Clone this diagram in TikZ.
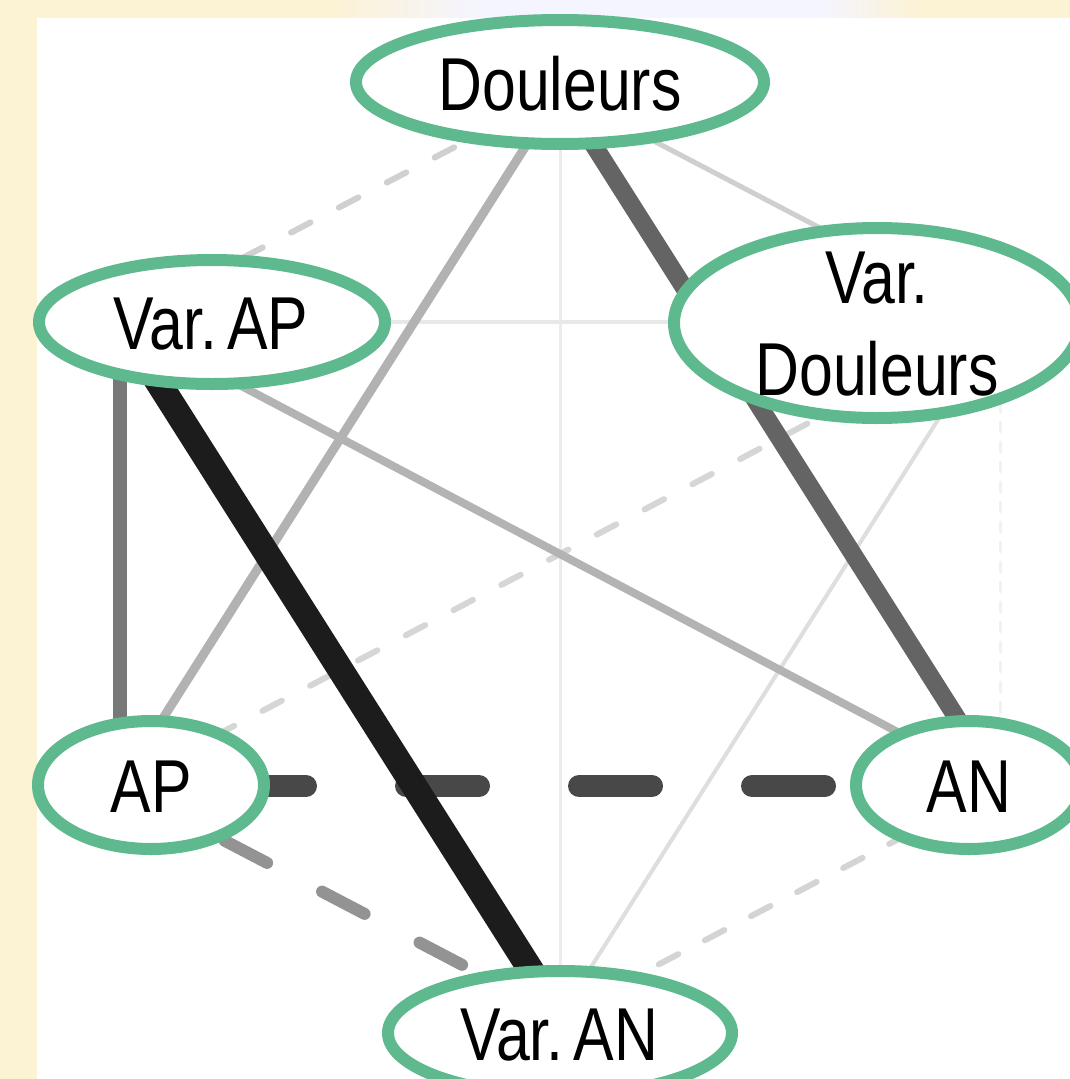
\documentclass[tikz,border=0pt]{standalone}
\usepackage{fontspec}
\setmainfont{Liberation Sans}[FakeStretch=0.81]
\usetikzlibrary{shapes.geometric}
\definecolor{ngreen}{RGB}{95,185,142}
\definecolor{bgyellow}{RGB}{252,242,212}
\begin{document}
\begin{tikzpicture}[x=1pt,y=-1pt,
  ell/.style={draw=ngreen, line width=12pt, fill=white, ellipse, inner sep=0pt},
  lbl/.style={font=\fontsize{75}{92}\selectfont, align=center, inner sep=0pt, text=black},
  edgeline/.style={line cap=round},
]
\useasboundingbox (0,0) rectangle (1070,1079);
% background
\fill[bgyellow] (0,0) rectangle (1070,1079);
\shade[left color=bgyellow, right color=white!96!blue] (330,0) rectangle (480,18);
\fill[white!96!blue] (480,0) rectangle (820,18);
\shade[left color=white!96!blue, right color=bgyellow] (820,0) rectangle (920,18);
\fill[white] (37,18) rectangle (1070,1079);

% underlying node positions
\coordinate (pD) at (560,92);
\coordinate (pVAP) at (120,322);
\coordinate (pVD) at (1000,322);
\coordinate (pAP) at (120,786);
\coordinate (pAN) at (1000,786);
\coordinate (pVAN) at (560,1016);

% edges (weakest first)
\draw[edgeline, draw={rgb,255:red,236;green,236;blue,236}, line width=3pt] (pD) -- (pVAN);
\draw[edgeline, draw={rgb,255:red,232;green,232;blue,232}, line width=4pt] (pVAP) -- (pVD);
\draw[edgeline, draw={rgb,255:red,241;green,241;blue,241}, line width=3pt, dash pattern=on 10pt off 10pt] (pVD) -- (pAN);
\draw[edgeline, draw={rgb,255:red,208;green,208;blue,208}, line width=6pt, dash pattern=on 22pt off 32pt, dash phase=23pt] (pVAP) -- (pD);
\draw[edgeline, draw={rgb,255:red,214;green,214;blue,214}, line width=6pt, dash pattern=on 22pt off 32pt, dash phase=1pt] (pAP) -- (pVD);
\draw[edgeline, draw={rgb,255:red,212;green,212;blue,212}, line width=6pt, dash pattern=on 22pt off 30pt, dash phase=1pt] (pAN) -- (pVAN);
\draw[edgeline, draw={rgb,255:red,207;green,207;blue,207}, line width=5pt] (pD) -- (pVD);
\draw[edgeline, draw={rgb,255:red,222;green,222;blue,222}, line width=4pt] (pVD) -- (pVAN);
\draw[edgeline, draw={rgb,255:red,178;green,178;blue,178}, line width=9pt] (pD) -- (pAP);
\draw[edgeline, draw={rgb,255:red,179;green,179;blue,179}, line width=8pt] (pVAP) -- (pAN);
\draw[edgeline, draw={rgb,255:red,147;green,147;blue,147}, line width=12pt, dash pattern=on 48pt off 62pt, dash phase=102pt] (pAP) -- (pVAN);
\draw[edgeline, draw={rgb,255:red,120;green,120;blue,120}, line width=14pt] (pVAP) -- (pAP);
\draw[edgeline, draw={rgb,255:red,100;green,100;blue,100}, line width=18pt] (pD) -- (pAN);
\draw[edgeline, draw={rgb,255:red,72;green,72;blue,72}, line width=22pt, dash pattern=on 73pt off 100pt, dash phase=60pt] (pAP) -- (pAN);
\draw[edgeline, draw={rgb,255:red,28;green,28;blue,28}, line width=26pt] (pVAP) -- (pVAN);

% node ellipses
\node[ell, minimum width=408pt, minimum height=124pt] (D) at (560,82) {};
\node[ell, minimum width=346pt, minimum height=124pt] (VAP) at (212,322) {};
\node[ell, minimum width=406pt, minimum height=190pt] (VD) at (877,323) {};
\node[ell, minimum width=226pt, minimum height=128pt] (AP) at (151,785) {};
\node[ell, minimum width=226pt, minimum height=128pt] (AN) at (969,785) {};
\node[ell, minimum width=344pt, minimum height=124pt] (VAN) at (560,1033) {};

% labels
\node[lbl] (Dt) at (560,84) {Douleurs};
\node[lbl] (VAPt) at (211,324) {Var.\kern10pt AP};
\node[lbl] (VDt) at (877,324) {Var.\\Douleurs};
\node[lbl] (APt) at (151,787) {AP};
\node[lbl] (ANt) at (969,787) {AN};
\node[lbl] (VANt) at (559,1035) {Var.\kern10pt AN};
\end{tikzpicture}
\end{document}
